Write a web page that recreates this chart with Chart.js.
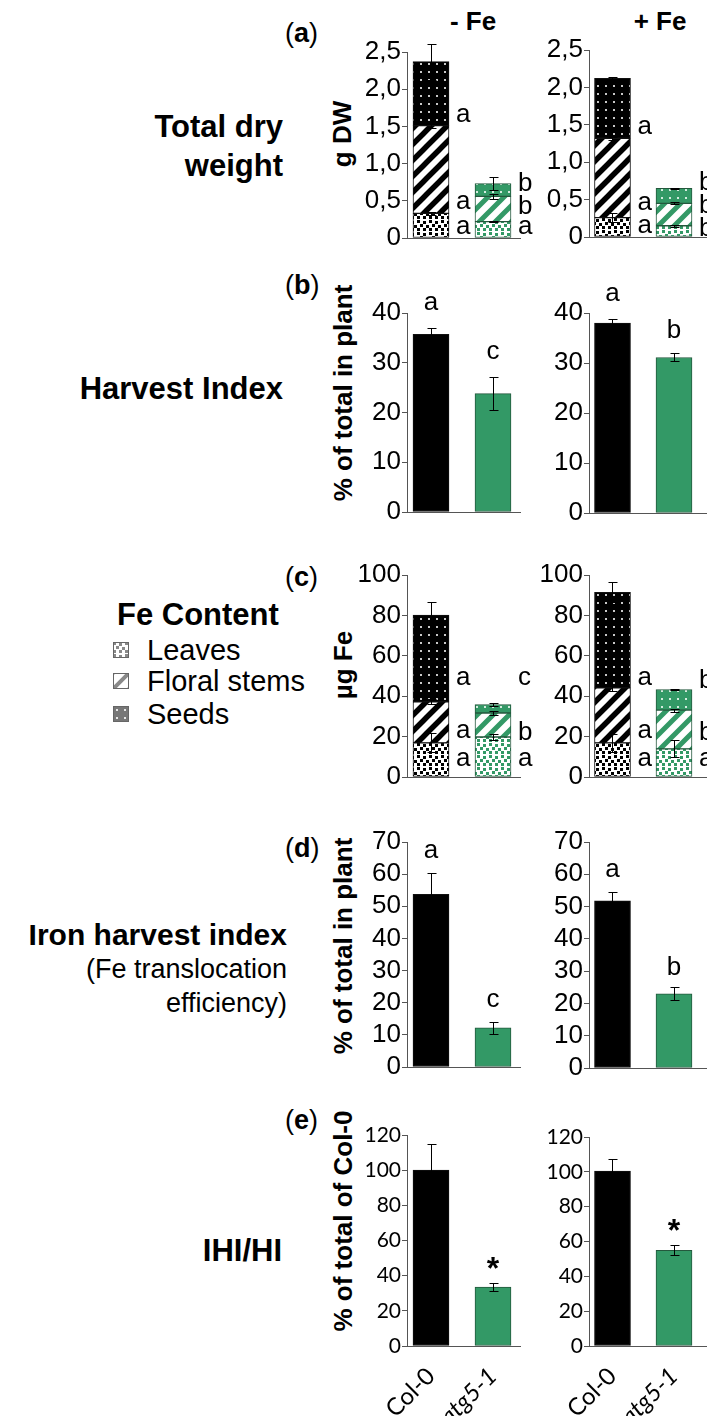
<!DOCTYPE html>
<html>
<head>
<meta charset="utf-8">
<script src="https://cdn.jsdelivr.net/npm/chart.js@4.4.1/dist/chart.umd.min.js"></script>
<style>
  html, body { margin: 0; padding: 0; background: #fff; }
  #fig { position: relative; width: 707px; height: 1417px; overflow: hidden;
         font-family: "Liberation Sans", Arial, sans-serif; color: #000; }
  #fig canvas { position: absolute; }
  .t { position: absolute; white-space: nowrap; line-height: 1; }
  .b { font-weight: bold; }
  .r { transform: translate(-100%, -50%); }
  .l { transform: translate(0, -50%); }
  .c { transform: translate(-50%, -50%); }
  .v { transform: translate(-50%, -50%) rotate(-90deg); }
  .sw { position: absolute; width: 16px; height: 16px; }
</style>
</head>
<body>
<div id="fig">
  <!-- panel letters -->
  <div class="t l" style="left:285px;top:33px;font-size:27px">(<b>a</b>)</div>
  <div class="t l" style="left:285px;top:285px;font-size:27px">(<b>b</b>)</div>
  <div class="t l" style="left:285px;top:577px;font-size:27px">(<b>c</b>)</div>
  <div class="t l" style="left:285px;top:848px;font-size:27px">(<b>d</b>)</div>
  <div class="t l" style="left:285px;top:1120px;font-size:27px">(<b>e</b>)</div>

  <!-- growth conditions -->
  <div class="t c b" style="left:473px;top:21px;font-size:26px">- Fe</div>
  <div class="t c b" style="left:660px;top:21px;font-size:26px">+ Fe</div>

  <!-- row descriptions -->
  <div class="t r b" style="left:283px;top:126px;font-size:31px">Total dry</div>
  <div class="t r b" style="left:283px;top:165px;font-size:31px">weight</div>
  <div class="t r b" style="left:283px;top:388px;font-size:31px">Harvest Index</div>
  <div class="t l b" style="left:117px;top:614px;font-size:31px">Fe Content</div>
  <div class="t r b" style="left:287px;top:935px;font-size:30px">Iron harvest index</div>
  <div class="t r" style="left:287px;top:969px;font-size:27px">(Fe translocation</div>
  <div class="t r" style="left:287px;top:1003px;font-size:27px">efficiency)</div>
  <div class="t r b" style="left:282px;top:1250px;font-size:31px">IHI/HI</div>

  <!-- legend of plant parts -->
  <canvas id="swLeaves" class="sw" width="16" height="16" style="left:113px;top:642px"></canvas>
  <canvas id="swStems" class="sw" width="16" height="16" style="left:113px;top:673px"></canvas>
  <canvas id="swSeeds" class="sw" width="16" height="16" style="left:113px;top:706px"></canvas>
  <div class="t l" style="left:147px;top:650px;font-size:29px">Leaves</div>
  <div class="t l" style="left:147px;top:681px;font-size:29px">Floral stems</div>
  <div class="t l" style="left:147px;top:714px;font-size:29px">Seeds</div>

  <!-- value axis titles -->
  <div class="t v b" style="left:342px;top:134px;font-size:26px">g DW</div>
  <div class="t v b" style="left:343px;top:393px;font-size:26px">% of total in plant</div>
  <div class="t v b" style="left:343px;top:665px;font-size:26px">µg Fe</div>
  <div class="t v b" style="left:343px;top:946px;font-size:26px">% of total in plant</div>
  <div class="t v b" style="left:343px;top:1221px;font-size:26px">% of total of Col-0</div>
</div>

<script>
// ---------- data ----------
const groups = ['Col-0', 'atg5-1'];

// (a) total dry weight (g DW) per plant part, -Fe and +Fe
const dwLeavesMinus = [0.33, 0.22];
const dwStemsMinus  = [1.18, 0.34];
const dwSeedsMinus  = [0.86, 0.17];
const dwLeavesMinusSd = [0.02, 0.01];
const dwStemsMinusSd  = [0.03, 0.035];
const dwSeedsMinusSd  = [0.24, 0.085];
const dwLeavesMinusSig = ['a', 'a'];
const dwStemsMinusSig  = ['a', 'b'];
const dwSeedsMinusSig  = ['a', 'b'];

const dwLeavesPlus = [0.26, 0.15];
const dwStemsPlus  = [1.06, 0.30];
const dwSeedsPlus  = [0.80, 0.20];
const dwLeavesPlusSd = [0.06, 0.01];
const dwStemsPlusSd  = [0.02, 0.015];
const dwSeedsPlusSd  = [0.02, 0.01];
const dwLeavesPlusSig = ['a', 'b'];
const dwStemsPlusSig  = ['a', 'b'];
const dwSeedsPlusSig  = ['a', 'b'];

// (b) harvest index (% of total in plant)
const hiMinus = [35.7, 23.8];
const hiMinusSd = [1.3, 3.3];
const hiMinusSig = ['a', 'c'];
const hiPlus = [38.0, 31.1];
const hiPlusSd = [0.9, 0.8];
const hiPlusSig = ['a', 'b'];

// (c) Fe content (µg Fe) per plant part
const feLeavesMinus = [16.9, 19.8];
const feStemsMinus  = [20.3, 11.9];
const feSeedsMinus  = [43.0, 4.2];
const feLeavesMinusSd = [4.7, 1.5];
const feStemsMinusSd  = [1.2, 1.2];
const feSeedsMinusSd  = [6.2, 0.7];
const feLeavesMinusSig = ['a', 'a'];
const feStemsMinusSig  = ['a', 'b'];
const feSeedsMinusSig  = ['a', 'c'];

const feLeavesPlus = [16.9, 13.9];
const feStemsPlus  = [27.2, 19.2];
const feSeedsPlus  = [47.3, 10.2];
const feLeavesPlusSd = [4.3, 4.2];
const feStemsPlusSd  = [1.5, 0.8];
const feSeedsPlusSd  = [5.0, 0.3];
const feLeavesPlusSig = ['a', 'a'];
const feStemsPlusSig  = ['a', 'b'];
const feSeedsPlusSig  = ['a', 'b'];

// (d) iron harvest index (% of total in plant)
const ihiMinus = [53.7, 12.2];
const ihiMinusSd = [6.7, 1.8];
const ihiMinusSig = ['a', 'c'];
const ihiPlus = [51.8, 23.0];
const ihiPlusSd = [2.6, 2.0];
const ihiPlusSig = ['a', 'b'];

// (e) IHI/HI (% of total of Col-0)
const ratioMinus = [100, 33.5];
const ratioMinusSd = [15, 2.3];
const ratioPlus = [100.5, 55];
const ratioPlusSd = [7, 3];
const ratioSig = ['', '*'];

// ---------- styles ----------
const GREEN = '#339966';
const GREEN_EDGE = '#24583d';
const AXIS = '#555';
Chart.defaults.font.family = '"Liberation Sans", Arial, sans-serif';
Chart.defaults.color = '#000';

function tile(size, paint) {
  const c = document.createElement('canvas');
  c.width = c.height = size;
  paint(c.getContext('2d'), size);
  return c;
}
const patCtx = document.createElement('canvas').getContext('2d');
const asPattern = (c) => patCtx.createPattern(c, 'repeat');

function dottedTile(bg, dot) {
  return tile(8, (g) => { g.fillStyle = bg; g.fillRect(0, 0, 8, 8); g.fillStyle = dot; g.fillRect(3, 3, 2, 2); });
}
function stripeTile(color, width) {
  return tile(16, (g, s) => {
    g.fillStyle = '#fff'; g.fillRect(0, 0, s, s);
    g.strokeStyle = color; g.lineWidth = width;
    g.beginPath();
    for (const k of [-s, 0, s]) { g.moveTo(k - 2, s + 2); g.lineTo(k + s + 2, -2); }
    g.stroke();
  });
}
function speckleTile(color) {
  return tile(12, (g) => {
    g.fillStyle = '#fff'; g.fillRect(0, 0, 12, 12);
    g.fillStyle = color;
    [[0, 0], [6, 1], [3, 4], [9, 5], [0, 8], [6, 8]].forEach(([x, y]) => g.fillRect(x, y, 3, 3));
  });
}

const fills = {
  leaves: [asPattern(speckleTile('#000')), asPattern(speckleTile(GREEN))],
  stems:  [asPattern(stripeTile('#000', 5.5)), asPattern(stripeTile(GREEN, 5))],
  seeds:  [asPattern(dottedTile('#000', '#c8c8c8')), asPattern(dottedTile(GREEN, '#d5ecdf'))],
  plain:  ['#000', GREEN]
};
const edges = ['#111', GREEN_EDGE];

// legend swatches
function paintSwatch(id, t) {
  const g = document.getElementById(id).getContext('2d');
  g.fillStyle = g.createPattern(t, 'repeat');
  g.fillRect(0, 0, 16, 16);
  g.strokeStyle = '#666'; g.lineWidth = 1; g.strokeRect(0.5, 0.5, 15, 15);
}
paintSwatch('swLeaves', speckleTile('#8a8a8a'));
paintSwatch('swStems', stripeTile('#8a8a8a', 4));
paintSwatch('swSeeds', dottedTile('#777', '#e6e6e6'));

// ---------- plugins ----------
const errorBars = {
  id: 'errorBars',
  afterDatasetsDraw(chart) {
    const ctx = chart.ctx, ys = chart.scales.y, sets = chart.data.datasets;
    const stacked = !!chart.options.scales.y.stacked;
    ctx.save();
    ctx.strokeStyle = '#000'; ctx.lineWidth = 1;
    sets.forEach((ds, d) => {
      if (!ds.errors) return;
      chart.getDatasetMeta(d).data.forEach((bar, i) => {
        let top = 0;
        if (stacked) { for (let k = 0; k <= d; k++) top += sets[k].data[i].y; } else { top = ds.data[i].y; }
        const e = ds.errors[i];
        const x = Math.round(bar.x) + 0.5;
        const y1 = Math.round(ys.getPixelForValue(top + e)) + 0.5;
        const y2 = Math.round(ys.getPixelForValue(top - e)) + 0.5;
        ctx.beginPath();
        ctx.moveTo(x, y1); ctx.lineTo(x, y2);
        ctx.moveTo(x - 4, y1); ctx.lineTo(x + 5, y1);
        ctx.moveTo(x - 4, y2); ctx.lineTo(x + 5, y2);
        ctx.stroke();
      });
    });
    ctx.restore();
  }
};

const sigMarks = {
  id: 'sigMarks',
  afterDatasetsDraw(chart, args, o) {
    if (!o || !o.mode) return;
    const ctx = chart.ctx, ys = chart.scales.y, sets = chart.data.datasets;
    ctx.save();
    ctx.fillStyle = '#000';
    ctx.font = o.font;
    ctx.textBaseline = 'alphabetic';
    const put = (txt, x, cy, align) => {
      if (!txt) return;
      const m = ctx.measureText(txt);
      ctx.textAlign = align;
      ctx.fillText(txt, x, cy + (m.actualBoundingBoxAscent - m.actualBoundingBoxDescent) / 2);
    };
    if (o.mode === 'stack') {
      const n = sets[0].data.length;
      for (let i = 0; i < n; i++) {
        let base = 0, prev = Infinity;
        sets.forEach((ds, d) => {
          const bar = chart.getDatasetMeta(d).data[i];
          const bottomPx = ys.getPixelForValue(base);
          const cy = o.rows ? ys.getPixelForValue(o.rows[d]) : Math.min(bottomPx - o.lift, prev - o.gap);
          prev = cy;
          put(ds.marks[i], bar.x + bar.width / 2 + o.dx, cy, 'left');
          base += ds.data[i].y;
        });
      }
    } else {
      sets.forEach((ds, d) => {
        chart.getDatasetMeta(d).data.forEach((bar, i) => {
          const top = ds.data[i].y + (ds.errors ? ds.errors[i] : 0);
          put(ds.marks[i], bar.x, ys.getPixelForValue(top) - o.lift, 'center');
        });
      });
    }
    ctx.restore();
  }
};

// ---------- chart builder ----------
const LEFT  = { left: 345, right: 545, axisX: 407, areaRight: 520, xMin: -0.387, xMax: 1.4355 };
const RIGHT = { left: 530, right: 707, axisX: 589, areaRight: 707, xMin: -0.382, xMax: 1.5366 };
const fig = document.getElementById('fig');

const pts = (arr) => arr.map((v, i) => ({ x: i, y: v }));

function stackSets(leaves, stems, seeds, sdL, sdS, sdD, sigL, sigS, sigD) {
  const mk = (vals, fill, sd, sig) => ({
    data: pts(vals), errors: sd, marks: sig,
    backgroundColor: fill, borderColor: edges, borderWidth: 1, borderSkipped: false,
    barThickness: 36
  });
  return [
    mk(leaves, fills.leaves, sdL, sigL),
    mk(stems, fills.stems, sdS, sigS),
    mk(seeds, fills.seeds, sdD, sigD)
  ];
}
function plainSet(vals, sd, sig) {
  return [{
    data: pts(vals), errors: sd, marks: sig,
    backgroundColor: fills.plain, borderColor: edges, borderWidth: 1, borderSkipped: false,
    barThickness: 36
  }];
}

function makeChart(side, plotTop, plotBottom, o) {
  const canvasTop = plotTop - 48;
  const xH = o.xLabels ? 70 : 0;
  const canvasBottom = o.xLabels ? 1417 : plotBottom + 22;
  const cv = document.createElement('canvas');
  cv.width = side.right - side.left;
  cv.height = canvasBottom - canvasTop;
  cv.style.left = side.left + 'px';
  cv.style.top = canvasTop + 'px';
  fig.appendChild(cv);
  return new Chart(cv, {
    type: 'bar',
    data: { datasets: o.datasets },
    options: {
      responsive: false, animation: false, devicePixelRatio: 1, events: [],
      layout: {
        autoPadding: false,
        padding: { top: plotTop - canvasTop, left: 0, right: side.right - side.areaRight,
                   bottom: canvasBottom - plotBottom - xH }
      },
      plugins: { legend: { display: false }, tooltip: { enabled: false }, sigMarks: o.marks },
      scales: {
        x: {
          type: 'linear', min: side.xMin, max: side.xMax, offset: false, stacked: !!o.stacked,
          grid: { display: false },
          border: { display: true, color: AXIS, width: 1 },
          ticks: {
            display: !!o.xLabels, autoSkip: false, minRotation: 45, maxRotation: 45, padding: 8,
            color: '#000',
            font: (c) => ({ family: 'Lato', size: 24, style: c.index === 1 ? 'italic' : 'normal' }),
            callback: (v) => groups[v]
          },
          afterBuildTicks: (a) => { a.ticks = [{ value: 0 }, { value: 1 }]; },
          afterFit: (s) => { s.height = xH; }
        },
        y: {
          type: 'linear', min: 0, max: o.yMax, stacked: !!o.stacked,
          grid: { drawOnChartArea: false, drawTicks: true, tickLength: 5, color: AXIS },
          border: { display: true, color: AXIS, width: 1 },
          ticks: { stepSize: o.yStep, autoSkip: false, padding: 1, color: '#000', font: o.tickFont, callback: o.fmt },
          afterFit: (s) => { s.width = side.axisX - side.left; }
        }
      }
    },
    plugins: [errorBars, sigMarks]
  });
}

const commaFmt = (v) => (v === 0 ? '0' : v.toFixed(1).replace('.', ','));
const intFmt = (v) => String(v);
const ARIAL = { family: '"Liberation Sans", Arial, sans-serif', size: 26 };
const LATO = { family: 'Lato', size: 21 };
const LETTER = '26px "Liberation Sans", Arial, sans-serif';
const STAR = 'bold 32px "Liberation Sans", Arial, sans-serif';

// (a)
makeChart(LEFT, 52, 238, {
  stacked: true, yMax: 2.5, yStep: 0.5, fmt: commaFmt, tickFont: ARIAL,
  datasets: stackSets(dwLeavesMinus, dwStemsMinus, dwSeedsMinus, dwLeavesMinusSd, dwStemsMinusSd, dwSeedsMinusSd,
                      dwLeavesMinusSig, dwStemsMinusSig, dwSeedsMinusSig),
  marks: { mode: 'stack', font: LETTER, lift: 11, gap: 23, dx: 7 }
});
makeChart(RIGHT, 50, 237, {
  stacked: true, yMax: 2.5, yStep: 0.5, fmt: commaFmt, tickFont: ARIAL,
  datasets: stackSets(dwLeavesPlus, dwStemsPlus, dwSeedsPlus, dwLeavesPlusSd, dwStemsPlusSd, dwSeedsPlusSd,
                      dwLeavesPlusSig, dwStemsPlusSig, dwSeedsPlusSig),
  marks: { mode: 'stack', font: LETTER, lift: 11, gap: 23, dx: 7 }
});

// (b)
makeChart(LEFT, 313, 512, {
  yMax: 40, yStep: 10, fmt: intFmt, tickFont: ARIAL,
  datasets: plainSet(hiMinus, hiMinusSd, hiMinusSig),
  marks: { mode: 'top', font: LETTER, lift: 25 }
});
makeChart(RIGHT, 313, 513, {
  yMax: 40, yStep: 10, fmt: intFmt, tickFont: ARIAL,
  datasets: plainSet(hiPlus, hiPlusSd, hiPlusSig),
  marks: { mode: 'top', font: LETTER, lift: 25 }
});

// (c)
makeChart(LEFT, 575, 777, {
  stacked: true, yMax: 100, yStep: 20, fmt: intFmt, tickFont: ARIAL,
  datasets: stackSets(feLeavesMinus, feStemsMinus, feSeedsMinus, feLeavesMinusSd, feStemsMinusSd, feSeedsMinusSd,
                      feLeavesMinusSig, feStemsMinusSig, feSeedsMinusSig),
  marks: { mode: 'stack', font: LETTER, dx: 7, rows: [9, 23, 49] }
});
makeChart(RIGHT, 575, 777, {
  stacked: true, yMax: 100, yStep: 20, fmt: intFmt, tickFont: ARIAL,
  datasets: stackSets(feLeavesPlus, feStemsPlus, feSeedsPlus, feLeavesPlusSd, feStemsPlusSd, feSeedsPlusSd,
                      feLeavesPlusSig, feStemsPlusSig, feSeedsPlusSig),
  marks: { mode: 'stack', font: LETTER, dx: 7, rows: [9, 23, 49] }
});

// (d)
makeChart(LEFT, 842, 1067, {
  yMax: 70, yStep: 10, fmt: intFmt, tickFont: ARIAL,
  datasets: plainSet(ihiMinus, ihiMinusSd, ihiMinusSig),
  marks: { mode: 'top', font: LETTER, lift: 22 }
});
makeChart(RIGHT, 842, 1068, {
  yMax: 70, yStep: 10, fmt: intFmt, tickFont: ARIAL,
  datasets: plainSet(ihiPlus, ihiPlusSd, ihiPlusSig),
  marks: { mode: 'top', font: LETTER, lift: 22 }
});

// (e)
makeChart(LEFT, 1135, 1346, {
  yMax: 120, yStep: 20, fmt: intFmt, tickFont: LATO, xLabels: true,
  datasets: plainSet(ratioMinus, ratioMinusSd, ratioSig),
  marks: { mode: 'top', font: STAR, lift: 20 }
});
makeChart(RIGHT, 1137, 1346, {
  yMax: 120, yStep: 20, fmt: intFmt, tickFont: LATO, xLabels: true,
  datasets: plainSet(ratioPlus, ratioPlusSd, ratioSig),
  marks: { mode: 'top', font: STAR, lift: 20 }
});
</script>
</body>
</html>
